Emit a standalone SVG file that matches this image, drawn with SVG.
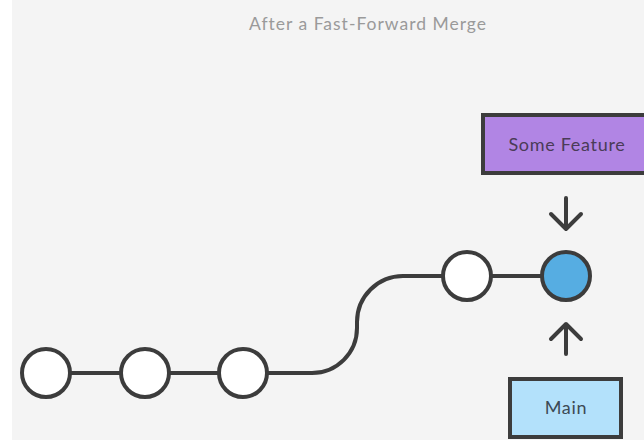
<svg xmlns="http://www.w3.org/2000/svg" width="644" height="440" viewBox="0 0 644 440">
  <style>
    .commit { stroke: #3c3c3c; stroke-width: 4; fill: #ffffff; }
    .tip { fill: #56ade2; }
    .edge { stroke: #3c3c3c; stroke-width: 4; fill: none; }
    .arrow { stroke: #3c3c3c; stroke-width: 4; fill: none; stroke-linecap: round; stroke-linejoin: round; }
    .label { font-family: "Lato", "Open Sans", "Liberation Sans", sans-serif; font-size: 18px; text-anchor: middle; letter-spacing: 0.7px; }
    .title { font-family: "Lato", "Open Sans", "Liberation Sans", sans-serif; font-size: 17.5px; fill: #9a9a9a; text-anchor: middle; letter-spacing: 1px; }
  </style>

  <rect x="0" y="0" width="644" height="440" fill="#ffffff"/>
  <rect x="12" y="0" width="632" height="440" fill="#f4f4f4"/>

  <text class="title" x="368" y="30">After a Fast-Forward Merge</text>

  <g id="connectors">
    <path class="edge" d="M46,373 H243"/>
    <path class="edge" d="M268,373 H312 A45,45 0 0 0 357,328 V322 A46,46 0 0 1 403,276 H566"/>
    <path class="arrow" d="M566,198 V229 M551,214 L566,229 L581,214"/>
    <path class="arrow" d="M566,354 V324 M551,339 L566,324 L581,339"/>
  </g>

  <g id="c1"><circle class="commit" cx="46" cy="373" r="24"/></g>
  <g id="c2"><circle class="commit" cx="145" cy="373" r="24"/></g>
  <g id="c3"><circle class="commit" cx="243" cy="373" r="24"/></g>
  <g id="c4"><circle class="commit" cx="467" cy="276" r="24"/></g>
  <g id="c5"><circle class="commit tip" cx="566" cy="276" r="24"/></g>

  <g id="some-feature">
    <rect x="483" y="115" width="170" height="58" fill="#b185e4" stroke="#3c3c3c" stroke-width="4"/>
    <text class="label" x="567" y="151" fill="#4a3b57">Some Feature</text>
  </g>

  <g id="main">
    <rect x="510" y="379" width="111" height="58" fill="#b3e1fb" stroke="#3c3c3c" stroke-width="4"/>
    <text class="label" x="566" y="414" fill="#3d4a55">Main</text>
  </g>
</svg>
